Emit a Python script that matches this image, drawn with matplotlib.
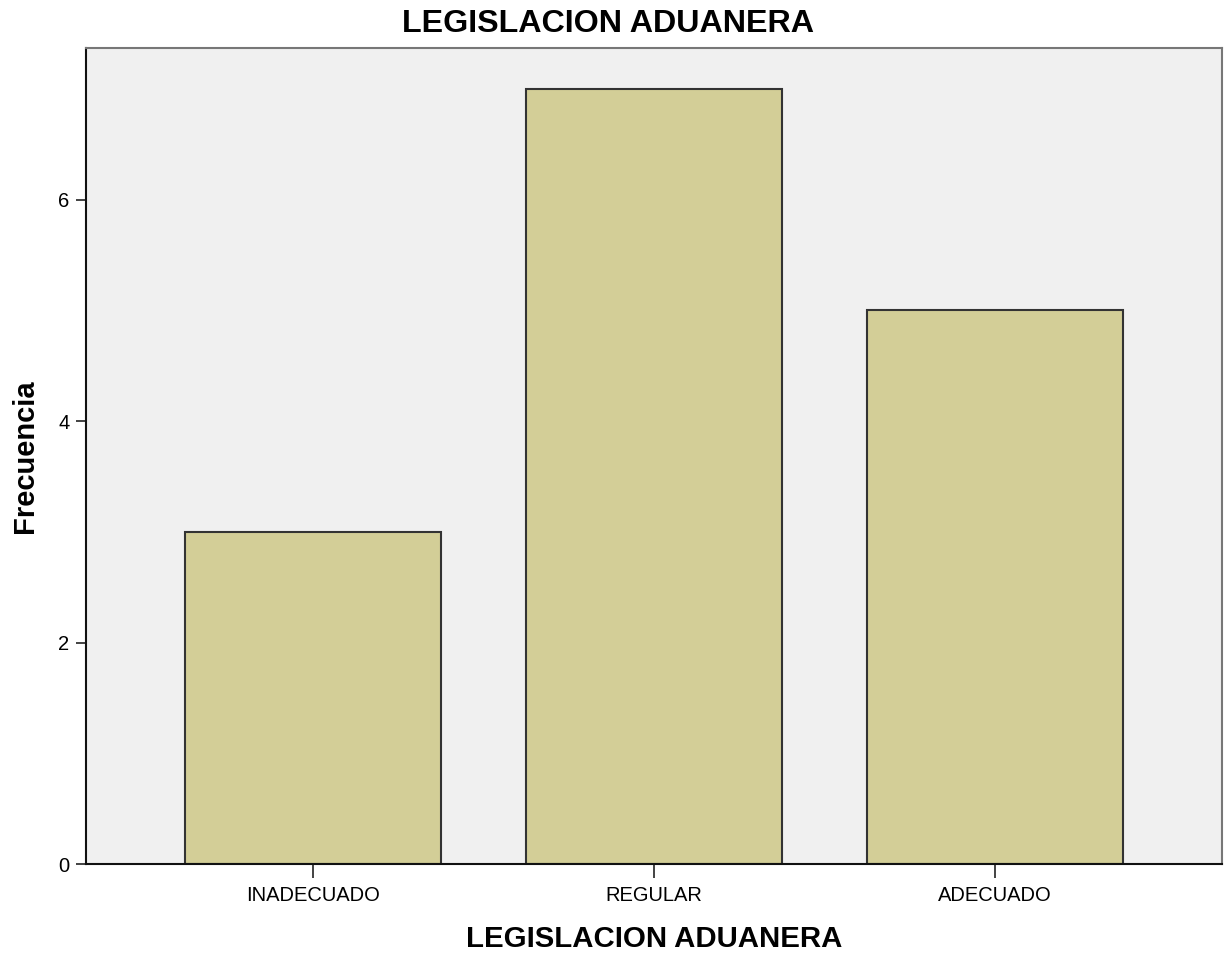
import matplotlib
matplotlib.use("Agg")
import matplotlib.pyplot as plt

plt.rcParams["font.family"] = ["Liberation Sans", "DejaVu Sans"]

categories = ["INADECUADO", "REGULAR", "ADECUADO"]
frecuencia = [3, 7, 5]
y_ticks = [0, 2, 4, 6]

fig = plt.figure(figsize=(12.3, 9.56), dpi=100)
ax = fig.add_axes([0.0699, 0.0962, 0.9236, 0.8536])
ax.set_facecolor("#f0f0f0")

x = range(len(categories))
ax.bar(x, frecuencia, width=0.75, color="#d3ce97", edgecolor="#333333", linewidth=1.5)

ax.set_xlim(-0.667, 2.667)
ax.set_ylim(0, 7.37)
ax.set_xticks(list(x))
ax.set_xticklabels(categories, fontsize=14.5)
ax.set_yticks(y_ticks)
ax.set_yticklabels([str(t) for t in y_ticks], fontsize=14.5)
ax.tick_params(axis="x", direction="out", length=10, width=1.2, color="#222222", pad=6)
ax.tick_params(axis="y", direction="out", length=7, width=1.2, color="#222222", pad=5)

for side in ["left", "bottom"]:
    ax.spines[side].set_color("#111111")
    ax.spines[side].set_linewidth(1.5)
for side in ["top", "right"]:
    ax.spines[side].set_color("#777777")
    ax.spines[side].set_linewidth(1.5)

# title sits centred on the figure, not the axes
fig.text(608 / 1230, 1 - 24 / 956, "LEGISLACION ADUANERA", fontsize=23.2,
         fontweight="bold", ha="center", va="center")
ax.set_xlabel("LEGISLACION ADUANERA", fontsize=21.2, fontweight="bold", labelpad=14)
ax.set_ylabel("Frecuencia", fontsize=21, fontweight="bold", labelpad=14)

fig.savefig("out.png", dpi=100)
